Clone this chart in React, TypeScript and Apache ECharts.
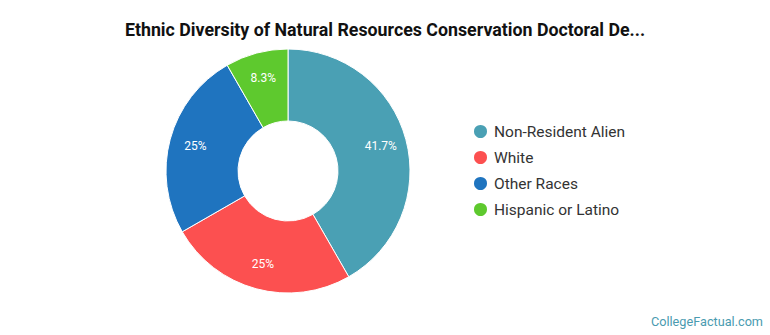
import React, { useEffect, useRef } from "react";
import * as echarts from "echarts";

const categories = ["Non-Resident Alien", "White", "Other Races", "Hispanic or Latino"];
const shares = [41.7, 25, 25, 8.3];
const colors = ["#4aa0b4", "#fc5050", "#1f74bf", "#5ec92e"];

const titleText = "Ethnic Diversity of Natural Resources Conservation Doctoral De...";
const sourceText = "CollegeFactual.com";

export default function App() {
  const ref = useRef<HTMLDivElement>(null);

  useEffect(() => {
    document.body.style.margin = "0";
    if (!ref.current) return;
    const chart = echarts.init(ref.current, undefined, { renderer: "svg" });
    const data = categories.map((name, i) => ({ name, value: shares[i] }));
    chart.setOption({
      animation: false,
      color: colors,
      textStyle: { fontFamily: "Roboto" },
      title: {
        text: titleText,
        left: "center",
        top: 15,
        textStyle: { fontFamily: "Roboto", fontWeight: "bold", fontSize: 17.8, color: "#111" },
      },
      legend: {
        orient: "vertical",
        left: 467,
        top: 118,
        icon: "circle",
        itemWidth: 15,
        itemHeight: 15,
        itemGap: 9,
        textStyle: {
          fontFamily: "Roboto",
          fontSize: 15.5,
          lineHeight: 17,
          color: "#333",
          padding: [0, 0, 0, 1],
        },
        data: categories,
      },
      graphic: [
        {
          type: "text",
          right: 7,
          top: 315,
          style: { text: sourceText, fontFamily: "Roboto", fontSize: 12.7, fill: "#4a9bb0" },
        },
      ],
      series: [
        {
          // the ring itself
          type: "pie",
          center: [288, 171],
          radius: [50, 122],
          startAngle: 90,
          clockwise: true,
          itemStyle: { borderColor: "#fff", borderWidth: 1 },
          label: { show: false },
          labelLine: { show: false },
          emphasis: { disabled: true },
          data,
        },
        {
          // percentage labels, set a little toward the outer edge
          type: "pie",
          center: [288, 171],
          radius: [64, 122],
          startAngle: 90,
          clockwise: true,
          silent: true,
          itemStyle: { color: "rgba(0,0,0,0)" },
          label: {
            position: "inside",
            formatter: (p: any) => `${p.value}%`,
            color: "#fff",
            fontFamily: "Roboto",
            fontSize: 12,
          },
          labelLine: { show: false },
          emphasis: { disabled: true },
          data,
        },
      ],
    });
    return () => chart.dispose();
  }, []);

  return <div ref={ref} style={{ width: 770, height: 335 }} />;
}
